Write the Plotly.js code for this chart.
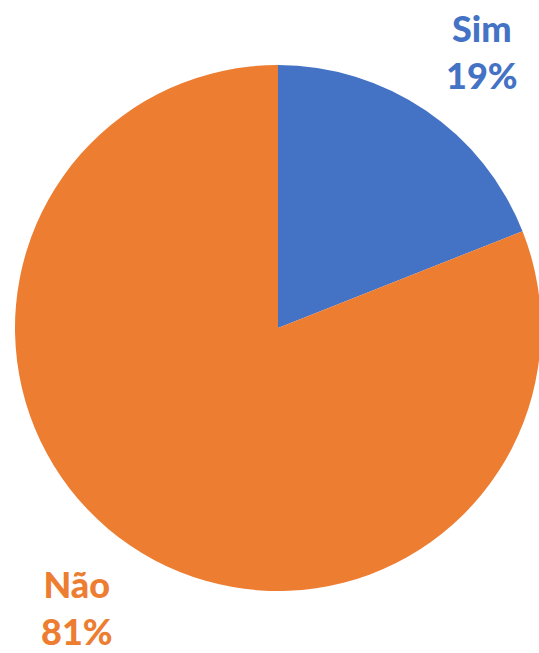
<!DOCTYPE html>
<html>
<head>
<meta charset="utf-8">
<script src="https://cdn.plot.ly/plotly-3.0.1.min.js"></script>
<style>
html,body{margin:0;padding:0;overflow:hidden;background:#fff;width:539px;height:653px;}
#chart{width:560px;height:653px;}
</style>
</head>
<body>
<div id="chart"></div>
<script>
const labels = ["Sim", "Não"];
const values = [19, 81];
const colors = ["#4472C4", "#ED7D31"];

const total = values.reduce((a, b) => a + b, 0);
const labelPos = [{x: 0.888, y: 1.025}, {x: 0.118, y: -0.031}];

const annotations = labels.map((l, i) => ({
  text: l + "<br>" + Math.round(values[i] / total * 100) + "%",
  xref: "paper", yref: "paper",
  x: labelPos[i].x, y: labelPos[i].y,
  xanchor: "center", yanchor: "middle",
  showarrow: false,
  font: {family: "Lato", size: 36, color: colors[i], weight: 900}
}));

Plotly.newPlot("chart", [{
  type: "pie",
  labels: labels,
  values: values,
  sort: false,
  direction: "clockwise",
  rotation: 0,
  textinfo: "none",
  hoverinfo: "label+percent",
  marker: {colors: colors, line: {width: 0}},
  showlegend: false
}], {
  width: 560, height: 653,
  margin: {l: 15, r: 19, t: 65, b: 62},
  paper_bgcolor: "#fff",
  annotations: annotations
}, {displayModeBar: false, staticPlot: true});
</script>
</body>
</html>
